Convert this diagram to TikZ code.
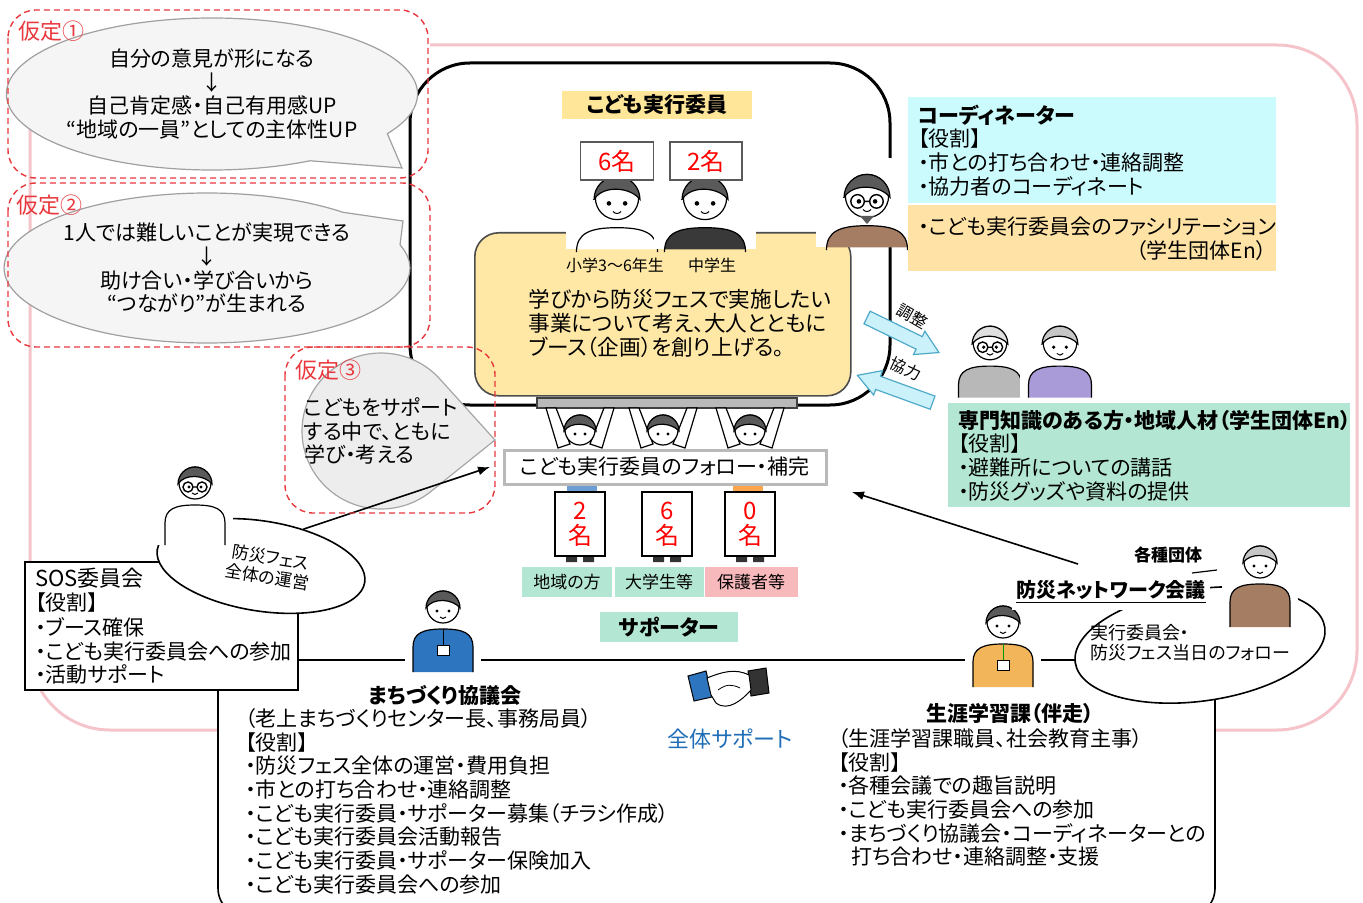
\documentclass[tikz,border=0pt]{standalone}
\usepackage{fontspec}
\setmainfont{Noto Sans CJK JP}[RawFeature=+palt]
\usetikzlibrary{shapes.geometric,shapes.callouts,arrows.meta}

\definecolor{framepink}{HTML}{F5C4CA}
\definecolor{hypred}{HTML}{E8383D}
\definecolor{bubblegray}{HTML}{F5F5F5}
\definecolor{dropgray}{HTML}{EDEDED}
\definecolor{kidyellow}{HTML}{FFE8A6}
\definecolor{tagyellow}{HTML}{FFE699}
\definecolor{coordcyan}{HTML}{CCFBFD}
\definecolor{coordorange}{HTML}{FFE3A6}
\definecolor{mintgreen}{HTML}{B3E7D3}
\definecolor{parentpink}{HTML}{F8B9BC}
\definecolor{arrowcyan}{HTML}{CBF1FA}
\definecolor{arrowedge}{HTML}{4FA9C9}
\definecolor{supportblue}{HTML}{1F6EB8}
\definecolor{hairgray}{HTML}{5A5A5A}
\definecolor{coatbrown}{HTML}{A47D63}
\definecolor{suitgray}{HTML}{B8B8B8}
\definecolor{sweaterpurple}{HTML}{A99AD8}
\definecolor{staffblue}{HTML}{2E75C0}
\definecolor{staffyellow}{HTML}{F3B55A}

\newcommand\mainsize{\fontsize{10.5}{11.85}\selectfont}
\newcommand\smallsize{\fontsize{8.5}{10}\selectfont}

\begin{document}
\begin{tikzpicture}[
        x=0.5pt, y=-0.5pt,
        % frames
        frame/.style={draw=framepink, line width=1.5pt, rounded corners=40pt},
        hypo/.style={draw=hypred, dash pattern=on 3pt off 2pt, line width=0.7pt, rounded corners=14pt},
        hypolabel/.style={text=hypred, font=\fontsize{11}{12}\selectfont, anchor=west, inner sep=0pt},
        % speech bubbles
        bubble/.style={ellipse callout, draw=gray!75, fill=bubblegray, line width=0.6pt,
            align=center, font=\mainsize, inner sep=0pt, callout pointer arc=30},
        % role boxes and small tags
        rolebox/.style={anchor=north west, align=left, font=\mainsize, inner xsep=5pt, inner ysep=0pt},
        plaintext/.style={anchor=north west, align=left, font=\mainsize, inner sep=0pt},
        tag/.style={inner sep=0pt, minimum height=15pt, font=\smallsize},
        headcount/.style={draw=gray!70!black, fill=white, text=red, line width=0.6pt,
            font=\fontsize{12}{12.5}\selectfont, align=center, inner sep=0pt},
        link/.style={line width=0.8pt, -{Latex[length=6pt,width=4.5pt]}},
        blockarrow/.style={draw=arrowedge, fill=arrowcyan, line width=0.6pt},
        % people: outfit, hair, bottom of the body
        pics/person/.style n args={3}{code={
            \fill[white] (-38,-28) rectangle (38,#3);
            \draw[fill=#1, line width=0.6pt] (-30,#3) -- (-30,40)
                .. controls (-30,26) and (-20,22) .. (0,22)
                .. controls (20,22) and (30,26) .. (30,40) -- (30,#3);
            \draw[fill=white, line width=0.6pt] (0,0) circle[radius=16];
            \draw[fill=#2, line width=0.6pt] (-17,1) arc[start angle=180, end angle=360, radius=17]
                .. controls (10,-8) and (-10,-10) .. cycle;
            \fill (-6,4) circle[radius=1.7] (6,4) circle[radius=1.7];
            \draw[line width=0.5pt] (-3,10) .. controls (-1,12) and (1,12) .. (3,10);
        }},
        pics/glasses/.style={code={
            \draw[line width=0.7pt] (-7,4) circle[radius=5] (7,4) circle[radius=5] (-2,4) -- (2,4);
        }},
        % supporters holding the table
        pics/lifter/.style={code={
            \draw[fill=white, line width=0.6pt] (-22,18) -- (-34,-22) -- (-24,-22) -- (-10,14) -- cycle;
            \draw[fill=white, line width=0.6pt] (22,18) -- (34,-22) -- (24,-22) -- (10,14) -- cycle;
            \draw[fill=white, line width=0.6pt] (0,0) circle[radius=15];
            \draw[fill=#1, line width=0.6pt] (-16,1) arc[start angle=180, end angle=360, radius=16]
                .. controls (9,-7) and (-9,-9) .. cycle;
            \fill (-5,4) circle[radius=1.6] (5,4) circle[radius=1.6];
        }}
    ]
    \useasboundingbox (0,0) rectangle (1363,903);

    % outer pink frame and the lower support frame
    \draw[frame] (430,45) -- (1357,45) -- (1357,730) -- (30,730) -- (30,125);
    \draw[fill=white, line width=0.8pt, rounded corners=15pt] (218,660) rectangle (1215,918);

    % committee frame
    \draw[line width=1.5pt, rounded corners=30pt] (410,63) rectangle (890,405);

    % hypotheses 1 and 2
    \node[bubble, minimum width=197pt, minimum height=76pt, callout absolute pointer={(402,168)}]
        (hope1) at (212,94) {自分の意見が形になる\\↓\\自己肯定感・自己有用感UP\\“地域の一員”としての主体性UP};
    \node[bubble, minimum width=190pt, minimum height=75pt, callout absolute pointer={(403,221)}]
        (hope2) at (207,268) {1人では難しいことが実現できる\\↓\\助け合い・学び合いから\\“つながり”が生まれる};

    % children's committee
    \node[fill=tagyellow, minimum width=95pt, minimum height=14pt, inner sep=0pt, font=\bfseries\mainsize]
        (kidtag) at (657,105) {こども実行委員};
    \node[fill=kidyellow, draw=gray!60!black, line width=0.8pt, rounded corners=12pt,
        minimum width=188pt, minimum height=81.5pt, anchor=north west] (workbox) at (474,232) {};
    \pic[scale=1.35] at (617,198) {person={white}{hairgray}{38}};
    \pic[scale=1.35] at (705,198) {person={gray!45!black}{hairgray}{38}};
    \node[headcount, minimum width=36.5pt, minimum height=19pt] (elemcount) at (617,161) {6名};
    \node[headcount, minimum width=36pt, minimum height=19pt] (juniorcount) at (706,161) {2名};
    \node[font=\fontsize{8}{9}\selectfont, inner sep=0pt] (elemlabel) at (615,265) {小学3〜6年生};
    \node[font=\fontsize{8}{9}\selectfont, inner sep=0pt] (juniorlabel) at (712,265) {中学生};
    \node[plaintext, font=\fontsize{10.8}{12}\selectfont] (worktext) at (528,289)
        {学びから防災フェスで実施したい\\事業について考え、大人とともに\\ブース（企画）を創り上げる。};

    % coordinator
    \pic[scale=1.35] at (867,196) {person={coatbrown}{hairgray}{38}};
    \pic[scale=1.35] at (867,196) {glasses};
    \fill[hairgray] (860,216) -- (874,216) -- (867,224) -- cycle;
    \node[rolebox, fill=coordcyan, text width=174pt, minimum height=53pt] (coord) at (908,97)
        {\textbf{コーディネーター}\\【役割】\\・市との打ち合わせ・連絡調整\\・協力者のコーディネート};
    \node[rolebox, fill=coordorange, text width=174pt, minimum height=33pt] (facil) at (908,205)
        {・こども実行委員会のファシリテーション\\\mbox{}\hfill（学生団体En）};

    % adjust / assist arrows
    \draw[blockarrow, shift={(903,335)}, rotate=-26]
        (-40,-7) -- (18,-7) -- (18,-13) -- (40,0) -- (18,13) -- (18,7) -- (-40,7) -- cycle;
    \draw[blockarrow, shift={(895,389)}, rotate=160]
        (-40,-7) -- (18,-7) -- (18,-13) -- (40,0) -- (18,13) -- (18,7) -- (-40,7) -- cycle;
    \node[font=\fontsize{8}{9}\selectfont, rotate=-30, inner sep=0pt] (adjustlabel) at (912,316) {調整};
    \node[font=\fontsize{8}{9}\selectfont, rotate=-25, inner sep=0pt] (assistlabel) at (906,369) {協力};

    % local experts
    \pic[scale=1.05] at (990,343) {person={suitgray}{gray!25}{52}};
    \pic[scale=1.05] at (990,343) {glasses};
    \pic[scale=1.05] at (1060,343) {person={sweaterpurple}{gray!45}{52}};
    \node[rolebox, fill=mintgreen, text width=191pt, minimum height=52pt] (expert) at (948,403)
        {\textbf{専門知識のある方・地域人材（学生団体En）}\\【役割】\\・避難所についての講話\\・防災グッズや資料の提供};

    % supporters under the table
    \node[fill=gray!55, draw=gray!50!black, line width=0.6pt, minimum width=130pt, minimum height=5pt,
        inner sep=0pt] (table) at (667,403) {};
    \pic at (580,430) {lifter=hairgray};
    \pic at (663,430) {lifter=hairgray};
    \pic at (750,430) {lifter=hairgray};
    \node[draw=gray!55, line width=1.5pt, fill=white, minimum width=161pt, minimum height=17pt,
        font=\mainsize, inner sep=0pt] (follow) at (665,467) {こども実行委員のフォロー・補完};
    \fill[staffblue!70] (567,486) rectangle (597,492);
    \fill[orange!70] (733,486) rectangle (763,492);
    \node[headcount, draw=black, minimum width=25pt, minimum height=32pt] (localsign) at (580,524) {2\\名};
    \node[headcount, draw=black, minimum width=25pt, minimum height=32pt] (studentsign) at (667,524) {6\\名};
    \node[headcount, draw=black, minimum width=25pt, minimum height=32pt] (parentsign) at (750,524) {0\\名};
    \foreach \sx in {580,667,750}
        \fill[gray!40!black] (\sx-14,557) rectangle (\sx-3,562) (\sx+3,557) rectangle (\sx+14,562);
    \node[tag, fill=mintgreen, minimum width=45pt] (locallabel) at (567,582) {地域の方};
    \node[tag, fill=mintgreen, minimum width=44.5pt] (studentlabel) at (659,582) {大学生等};
    \node[tag, fill=parentpink, minimum width=46.5pt] (parentlabel) at (751,582) {保護者等};
    \node[tag, fill=mintgreen, minimum width=69pt, font=\bfseries\mainsize] (supporters) at (669,627) {サポーター};

    % hypothesis 3
    \node[ellipse callout, draw=gray!70, fill=dropgray, line width=0.6pt, minimum width=79pt,
        minimum height=78pt, callout absolute pointer={(495,440)}, callout pointer arc=90,
        align=left, font=\mainsize, inner xsep=-12pt, inner ysep=0pt] (hope3) at (381,431)
        {こどもをサポート\\する中で、ともに\\学び・考える};

    % SOS committee
    \draw[fill=white, line width=0.8pt] (25,562) rectangle (298,690);
    \node[plaintext] (sostitle) at (35,568) {{\fontsize{11}{12}\selectfont SOS委員会}\\【役割】};
    \node[plaintext] (sosroles) at (35,617) {・ブース確保\\・こども実行委員会への参加\\・活動サポート};
    \node[ellipse, draw, fill=white, line width=0.8pt, minimum width=105pt, minimum height=45pt,
        rotate=-9, align=center, font=\fontsize{8.5}{10}\selectfont, inner sep=0pt] (sosbub) at (261,566)
        {\hspace*{8pt}防災フェス\\\hspace*{8pt}全体の運営};
    \pic at (195,483) {person={white}{hairgray}{62}};
    \pic at (195,483) {glasses};
    \coordinate (hope3tip) at (490,467);
    \draw[link] (sosbub.50) -- (hope3tip);

    % town council
    \pic at (443,607) {person={staffblue}{hairgray}{65}};
    \draw[line width=0.5pt] (443,629) -- (443,645);
    \draw[fill=white, line width=0.5pt] (437,645) rectangle (449,655);
    \node[font=\bfseries\mainsize, inner sep=0pt] (machititle) at (445,695) {まちづくり協議会};
    \node[plaintext] (machiroles) at (245,708)
        {（老上まちづくりセンター長、事務局員）\\【役割】\\・防災フェス全体の運営・費用負担\\・市との打ち合わせ・連絡調整\\・こども実行委員・サポーター募集（チラシ作成）\\・こども実行委員会活動報告\\・こども実行委員・サポーター保険加入\\・こども実行委員会への参加};

    % handshake
    \draw[fill=staffblue, line width=0.5pt] (688,676) -- (706,671) -- (712,697) -- (694,701) -- cycle;
    \draw[fill=gray!40!black, line width=0.5pt] (748,671) -- (766,668) -- (769,693) -- (751,696) -- cycle;
    \draw[fill=white, line width=0.5pt] (707,678) .. controls (722,672) and (735,668) .. (749,675)
        -- (751,690) .. controls (742,700) and (728,712) .. (716,703) -- (711,695) -- cycle;
    \draw[line width=0.4pt] (718,690) .. controls (726,684) and (732,684) .. (740,688);
    \node[text=supportblue, font=\fontsize{11}{12}\selectfont, inner sep=0pt] (allsupport) at (730,739) {全体サポート};

    % lifelong learning section
    \pic at (1003,622) {person={staffyellow}{hairgray}{65}};
    \draw[green!60!black, line width=0.5pt] (1003,644) -- (1003,660);
    \draw[fill=white, line width=0.5pt] (997,660) rectangle (1009,670);
    \node[font=\bfseries\mainsize, inner sep=0pt] (lifetitle) at (1010,714) {生涯学習課（伴走）};
    \node[plaintext] (liferoles) at (838,728)
        {（生涯学習課職員、社会教育主事）\\【役割】\\・各種会議での趣旨説明\\・こども実行委員会への参加\\・まちづくり協議会・コーディネーターとの\\\hspace*{0.6em}打ち合わせ・連絡調整・支援};

    % disaster network
    \node[ellipse, draw, fill=white, line width=0.8pt, minimum width=126pt, minimum height=56pt,
        rotate=8] (netbub) at (1200,645) {};
    \node[plaintext, font=\fontsize{9}{10}\selectfont] (nettext) at (1090,624)
        {実行委員会・\\防災フェス当日のフォロー};
    \node[fill=white, font=\bfseries\fontsize{10}{12}\selectfont, inner xsep=2pt, inner ysep=3pt]
        (netname) at (1111,592) {\underline{防災ネットワーク会議}};
    \node[font=\bfseries\fontsize{8.5}{10}\selectfont, inner sep=0pt] (groups) at (1168,555) {各種団体};
    \draw[line width=0.6pt] (1192,573) -- (1217,570);
    \pic at (1260,562) {person={coatbrown}{gray!45}{65}};
    \coordinate (netlink) at (1078,564);
    \coordinate (followtip) at (852,492);
    \draw[link] (netlink) -- (followtip);

    % hypothesis frames
    \draw[hypo] (8,10) rectangle (428,178);
    \draw[hypo] (8,183) rectangle (430,347);
    \draw[hypo] (285,347) rectangle (495,513);
    \node[hypolabel] (hyp1) at (18,31) {仮定①};
    \node[hypolabel] (hyp2) at (16,205) {仮定②};
    \node[hypolabel] (hyp3) at (295,370) {仮定③};

\end{tikzpicture}
\end{document}
